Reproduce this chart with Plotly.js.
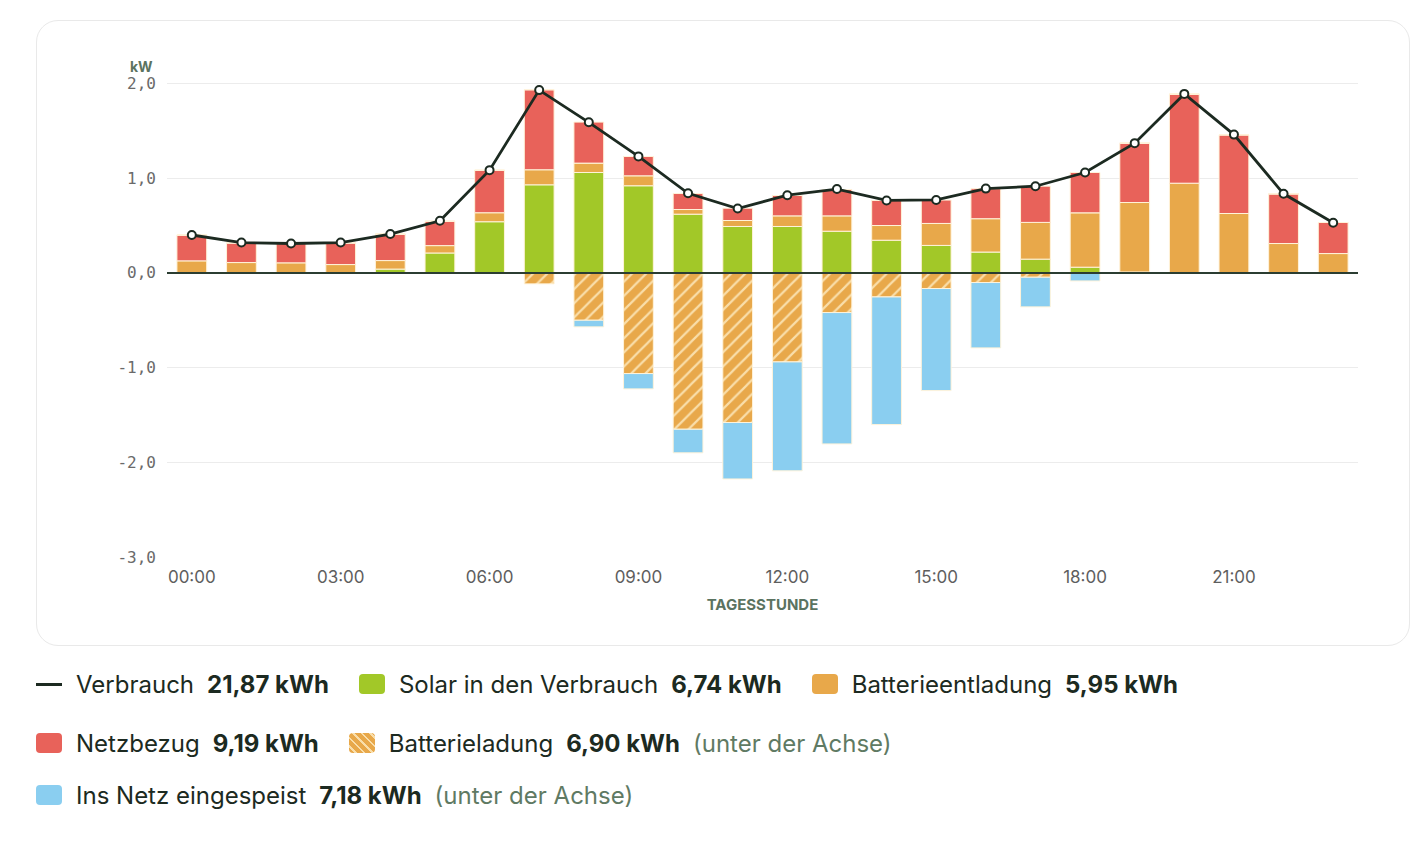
<!DOCTYPE html>
<html>
<head>
<meta charset="utf-8">
<script src="https://cdn.plot.ly/plotly-3.0.1.min.js"></script>
<style>
body { margin: 0; background: #fff; font-family: Inter, "Noto Sans", sans-serif; }
#card { position: absolute; left: 36px; top: 20px; width: 1372px; height: 624px; border: 1px solid #e9e9e9; border-radius: 22px; }
#chart { position: absolute; left: 0; top: 0; width: 1416px; height: 650px; }
.row { position: absolute; left: 36px; display: flex; align-items: center; height: 40px; }
.item { display: flex; align-items: center; margin-right: 30px; font-size: 24px; color: #1c2a21; white-space: nowrap; }
.sw { width: 26px; height: 20px; border-radius: 4px; margin-right: 14px; }
.ln { width: 26px; height: 3px; background: #1c2a21; margin-right: 14px; }
.val { font-weight: 700; margin-left: 13px; }
.note { color: #5f7a63; margin-left: 13px; }
</style>
</head>
<body>
<div id="card"></div>
<div id="chart"></div>
<div id="legend"></div>
<script>
var hours = [0,1,2,3,4,5,6,7,8,9,10,11,12,13,14,15,16,17,18,19,20,21,22,23];

// kW per hour, stacked above the axis
var solar        = [0,0,0,0,0.04,0.21,0.54,0.93,1.06,0.92,0.62,0.49,0.49,0.44,0.345,0.29,0.22,0.145,0.06,0.01,0,0,0,0];
var batDischarge = [0.127,0.109,0.106,0.088,0.09,0.078,0.095,0.159,0.099,0.105,0.049,0.063,0.112,0.162,0.155,0.232,0.352,0.388,0.574,0.733,0.947,0.627,0.31,0.204];
var gridImport   = [0.273,0.208,0.204,0.229,0.28,0.257,0.448,0.845,0.433,0.204,0.169,0.13,0.215,0.278,0.264,0.247,0.317,0.383,0.426,0.627,0.94,0.831,0.525,0.328];

// below the axis
var batCharge = [0,0,0,0,0,0,0,-0.116,-0.50,-1.063,-1.651,-1.58,-0.94,-0.419,-0.254,-0.165,-0.102,-0.046,-0.005,0,0,0,0,0];
var gridFeed  = [0,0,0,0,0,0,0,0,-0.07,-0.162,-0.249,-0.596,-1.15,-1.387,-1.348,-1.078,-0.69,-0.313,-0.08,0,0,0,0,0];

var consumption = [0.40,0.32,0.31,0.32,0.41,0.55,1.085,1.93,1.59,1.23,0.84,0.68,0.82,0.885,0.765,0.77,0.89,0.915,1.06,1.37,1.89,1.46,0.835,0.53];

var yTicks = [2,1,0,-1,-2,-3];
var yTickText = ['2,0','1,0','0,0','-1,0','-2,0','-3,0'];
var xTicks = [0,3,6,9,12,15,18,21];
var xTickText = ['00:00','03:00','06:00','09:00','12:00','15:00','18:00','21:00'];

var legendNames  = ['Verbrauch','Solar in den Verbrauch','Batterieentladung','Netzbezug','Batterieladung','Ins Netz eingespeist'];
var legendTotals = ['21,87 kWh','6,74 kWh','5,95 kWh','9,19 kWh','6,90 kWh','7,18 kWh'];

var cGreen = '#a2c828', cOrange = '#e8a84a', cRed = '#e8625a', cBlue = '#8acef0', cDark = '#1c2a21';
var edge = {color: '#fff3da', width: 1};

function barTrace(y, color, extra) {
    var t = {x: hours, y: y, type: 'bar', marker: {color: color, line: edge}, hoverinfo: 'y'};
    if (extra) t.marker.pattern = extra;
    return t;
}

var data = [
    barTrace(solar, cGreen),
    barTrace(batDischarge, cOrange),
    barTrace(gridImport, cRed),
    barTrace(batCharge, cOrange, {shape: '/', bgcolor: cOrange, fgcolor: '#f9deaa', size: 10, solidity: 0.22, fillmode: 'replace'}),
    barTrace(gridFeed, cBlue),
    {
        x: hours, y: consumption, type: 'scatter', mode: 'lines+markers',
        line: {color: cDark, width: 2.8},
        marker: {color: '#fff', size: 8, line: {color: cDark, width: 2}}
    }
];

var layout = {
    width: 1416, height: 650,
    margin: {l: 167, r: 58, t: 74, b: 93},
    paper_bgcolor: 'rgba(0,0,0,0)',
    plot_bgcolor: 'rgba(0,0,0,0)',
    barmode: 'relative',
    bargap: 0.4,
    showlegend: false,
    xaxis: {
        range: [-0.5, 23.5],
        tickvals: xTicks, ticktext: xTickText,
        showgrid: false, zeroline: false, showline: false, ticks: '',
        ticklabelstandoff: 8,
        tickfont: {family: 'Inter, sans-serif', size: 17, color: '#5e5e5e'},
        title: {text: 'TAGESSTUNDE', standoff: 13, font: {family: 'Inter, sans-serif', size: 15, color: '#5b7360', weight: 700}}
    },
    yaxis: {
        range: [-3, 2.1],
        tickvals: yTicks, ticktext: yTickText,
        showgrid: true, gridcolor: '#ececec', gridwidth: 1,
        zeroline: false, showline: false, ticks: '',
        ticklabelstandoff: 10,
        tickfont: {family: 'DejaVu Sans Mono, monospace', size: 16, color: '#6a6a6a'}
    },
    shapes: [{
        type: 'line', xref: 'paper', yref: 'y', x0: 0, x1: 1, y0: 0, y1: 0,
        line: {color: '#2b3d31', width: 2}, layer: 'above'
    }],
    annotations: [{
        text: '<b>kW</b>', xref: 'paper', yref: 'paper', x: 0, y: 1,
        xshift: -26, yshift: 8, showarrow: false, xanchor: 'center', yanchor: 'middle',
        font: {family: 'Inter, sans-serif', size: 14, color: '#5b7360'}
    }]
};

Plotly.newPlot('chart', data, layout, {displayModeBar: false, staticPlot: true});

// legend rows
var swatches = [
    '<div class="ln"></div>',
    '<div class="sw" style="background:' + cGreen + '"></div>',
    '<div class="sw" style="background:' + cOrange + '"></div>',
    '<div class="sw" style="background:' + cRed + '"></div>',
    '<div class="sw" style="background:repeating-linear-gradient(45deg,' + cOrange + ' 0 4px,#f9deaa 4px 6px)"></div>',
    '<div class="sw" style="background:' + cBlue + '"></div>'
];
var notes = ['', '', '', '', '(unter der Achse)', '(unter der Achse)'];
var rows = [[0,1,2],[3,4],[5]];
var rowTops = [664, 723, 775];
var html = '';
rows.forEach(function(r, ri) {
    html += '<div class="row" style="top:' + rowTops[ri] + 'px">';
    r.forEach(function(i) {
        html += '<div class="item">' + swatches[i] + '<span>' + legendNames[i] + '</span>' +
            '<span class="val">' + legendTotals[i] + '</span>' +
            (notes[i] ? '<span class="note">' + notes[i] + '</span>' : '') + '</div>';
    });
    html += '</div>';
});
document.getElementById('legend').innerHTML = html;
</script>
</body>
</html>
